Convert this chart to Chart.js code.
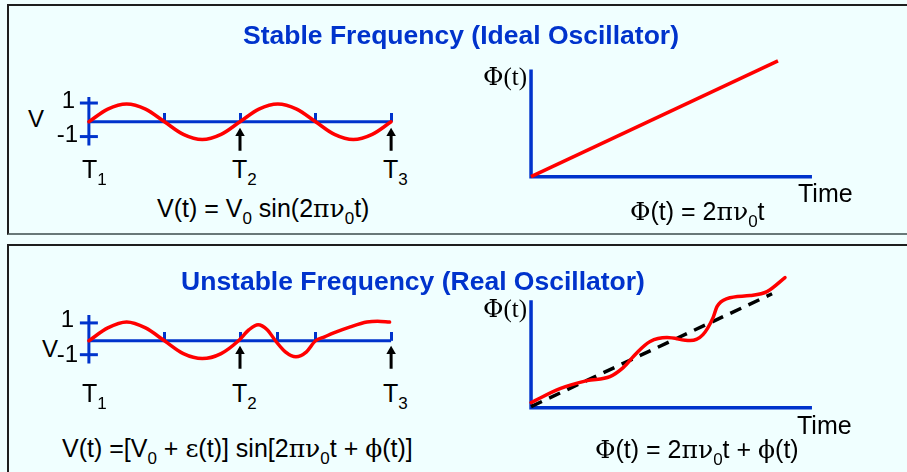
<!DOCTYPE html>
<html>
<head>
<meta charset="utf-8">
<script src="https://cdn.jsdelivr.net/npm/chart.js@4.4.0/dist/chart.umd.min.js"></script>
<style>
body{margin:0;width:907px;height:472px;overflow:hidden;position:relative;background:#f0ffff;font-family:"Liberation Sans",Arial,sans-serif;}
.panel{position:absolute;left:7px;width:1000px;background:#f0ffff;border-top:2px solid #1e1e1e;border-left:2px solid #1e1e1e;border-bottom:2px solid #687878;}
canvas{position:absolute;}
.lbl{position:absolute;white-space:nowrap;line-height:1;font-size:25px;color:#000;}
.sm{font-size:24px;}
.ttl{font-weight:bold;font-size:26.5px;color:#0033cc;}
.sym{font-family:"DejaVu Serif","Liberation Serif",serif;}
.ser{font-family:"Liberation Serif","Times New Roman",serif;}
sub{font-size:17px;line-height:0;vertical-align:-7px;}
.c{transform:translateX(-50%);}
.r{transform:translateX(-100%);}
</style>
</head>
<body>
<div class="panel" style="top:4px;height:227px"></div>
<div class="panel" style="top:244px;height:300px"></div>

<canvas id="stable-volt" width="340" height="58" style="left:70px;top:95px"></canvas>
<canvas id="stable-phase" width="309" height="134" style="left:517px;top:48px"></canvas>
<canvas id="real-volt" width="340" height="58" style="left:70px;top:314px"></canvas>
<canvas id="real-phase" width="309" height="145" style="left:517px;top:268px"></canvas>

<div class="lbl ttl c" style="left:461px;top:22px">Stable Frequency (Ideal Oscillator)</div>
<div class="lbl sm" style="left:28px;top:107px">V</div>
<div class="lbl sm r" style="left:75px;top:88px">1</div>
<div class="lbl sm r" style="left:78px;top:122px">-1</div>
<div class="lbl" style="left:82px;top:157px">T<sub>1</sub></div>
<div class="lbl" style="left:232px;top:157px">T<sub>2</sub></div>
<div class="lbl" style="left:383px;top:157px">T<sub>3</sub></div>
<div class="lbl" style="left:157px;top:196px">V(t) = V<sub>0</sub> sin(2<span class="sym">πν</span><sub>0</sub>t)</div>
<div class="lbl ser" style="left:483px;top:64px"><span class="sym">Φ</span>(t)</div>
<div class="lbl" style="left:798px;top:181px">Time</div>
<div class="lbl" style="left:630px;top:199px"><span class="sym">Φ</span>(t) = 2<span class="sym">πν</span><sub>0</sub>t</div>

<div class="lbl ttl c" style="left:413px;top:268px">Unstable Frequency (Real Oscillator)</div>
<div class="lbl sm" style="left:42px;top:337px">V</div>
<div class="lbl sm r" style="left:74px;top:307px">1</div>
<div class="lbl sm r" style="left:78px;top:342px">-1</div>
<div class="lbl" style="left:82px;top:381px">T<sub>1</sub></div>
<div class="lbl" style="left:232px;top:381px">T<sub>2</sub></div>
<div class="lbl" style="left:383px;top:381px">T<sub>3</sub></div>
<div class="lbl" style="left:62px;top:436px">V(t) =[V<sub>0</sub> + <span class="sym">ε</span>(t)] sin[2<span class="sym">πν</span><sub>0</sub>t + <span class="sym">ϕ</span>(t)]</div>
<div class="lbl ser" style="left:483px;top:296px"><span class="sym">Φ</span>(t)</div>
<div class="lbl" style="left:797px;top:413px">Time</div>
<div class="lbl" style="left:595px;top:437px"><span class="sym">Φ</span>(t) = 2<span class="sym">πν</span><sub>0</sub>t + <span class="sym">ϕ</span>(t)</div>

<script>
// ideal oscillator: voltage vs time (time in periods, V normalised)
const stableT = [0, 0.125, 0.25, 0.375, 0.5, 0.625, 0.75, 0.875, 1, 1.125, 1.25, 1.375, 1.5, 1.625, 1.75, 1.875, 2];
const stableV = [0, 0.71, 1, 0.71, 0, -0.71, -1, -0.71, 0, 0.71, 1, 0.71, 0, -0.71, -1, -0.71, 0];
const stableTicks = [0.5, 1, 1.5, 2];
const stableVMarks = [1.05, -0.83];
const stableVAxis = [1.39, -1.33];

// real oscillator: voltage vs time
const realT = [0, 0.125, 0.25, 0.375, 0.5, 0.625, 0.75, 0.875, 0.99, 1.06, 1.12, 1.18, 1.235, 1.3, 1.37, 1.44, 1.5, 1.56, 1.62, 1.73, 1.84, 1.91, 1.99];
const realV = [0, 0.72, 1.05, 0.72, 0, -0.72, -1.0, -0.72, 0, 0.62, 0.9, 0.62, 0, -0.62, -0.9, -0.62, 0, 0.22, 0.44, 0.78, 1.05, 1.1, 1.05];
const realTicks = [0.5, 1, 1.25, 1.5, 2];
const realVMarks = [1.0, -0.78];
const realVAxis = [1.44, -1.28];

// T2, T3 arrows (time in periods)
const markerT = [1, 2];

// phase vs time
const idealTime = [0, 8.79];
const idealPhase = [0, 10.8];
const realTime = [0, 1.03, 1.99, 2.81, 3.28, 3.77, 4.24, 4.84, 5.66, 6.12, 6.48, 6.62, 6.98, 7.8, 8.4, 9.04];
const realPhase = [0.47, 1.77, 2.51, 2.89, 3.72, 5.12, 6.15, 6.52, 6.24, 6.8, 8.38, 9.4, 10.15, 10.43, 10.8, 12.1];
const trendTime = [0, 8.58];
const trendPhase = [0.1, 10.6];

const BLUE = '#0033cc';
const RED = '#ff0000';

function pts(xs, ys){
    return xs.map((x, i) => ({x: x, y: ys[i]}));
}

// small tick drawn only above the axis
function tickImage(){
    let c = document.createElement('canvas');
    c.width = 3;
    c.height = 18;
    let g = c.getContext('2d');
    g.fillStyle = BLUE;
    g.fillRect(0, 0, 3, 9);
    return c;
}

function makeChart(id, xr, yr, datasets){
    datasets.forEach(d => { d.clip = false; });
    return new Chart(document.getElementById(id), {
        type: 'line',
        data: {datasets: datasets},
        options: {
            responsive: false,
            animation: false,
            events: [],
            layout: {padding: 0, autoPadding: false},
            plugins: {legend: {display: false}, tooltip: {enabled: false}, title: {display: false}},
            scales: {
                x: {type: 'linear', min: xr[0], max: xr[1], display: false},
                y: {type: 'linear', min: yr[0], max: yr[1], display: false}
            },
            elements: {point: {radius: 0, hoverRadius: 0}}
        }
    });
}

function voltChart(id, ts, vs, ticks, marks, vAxis, arrowHead, arrowTail){
    let tick = tickImage();
    let sets = [{
        data: pts(ts, vs),
        borderColor: RED,
        borderWidth: 3.5,
        borderCapStyle: 'round',
        cubicInterpolationMode: 'monotone'
    }, {
        data: ticks.map(t => ({x: t, y: 0})),
        showLine: false,
        pointStyle: tick,
        pointRadius: 5
    }, {
        data: marks.map(v => ({x: 0, y: v})),
        showLine: false,
        pointStyle: 'line',
        pointRadius: 9,
        pointBorderWidth: 3,
        pointBorderColor: BLUE
    }, {
        data: [{x: 0, y: vAxis[0]}, {x: 0, y: vAxis[1]}],
        borderColor: BLUE,
        borderWidth: 3
    }, {
        data: [{x: 0, y: 0}, {x: 2, y: 0}],
        borderColor: BLUE,
        borderWidth: 3
    }];
    markerT.forEach(t => {
        sets.push({
            data: [{x: t, y: arrowHead}, {x: t, y: arrowTail}],
            borderColor: '#000',
            borderWidth: 3,
            pointStyle: 'triangle',
            pointRadius: [5.5, 0],
            pointBackgroundColor: '#000',
            pointBorderWidth: 0
        });
    });
    return makeChart(id, [-0.125, 2.125], [-1.75, 1.5], sets);
}

function phaseChart(id, yMax, curves){
    let sets = curves.concat([{
        data: [{x: 0, y: 10}, {x: 0, y: 0}, {x: 10, y: 0}],
        borderColor: BLUE,
        borderWidth: 3.5,
        borderJoinStyle: 'miter'
    }]);
    return makeChart(id, [-0.5, 10.5], [-0.5, yMax], sets);
}

voltChart('stable-volt', stableT, stableV, stableTicks, stableVMarks, stableVAxis, -0.64, -1.62);
voltChart('real-volt', realT, realV, realTicks, realVMarks, realVAxis, -0.59, -1.57);

phaseChart('stable-phase', 12, [{
    data: pts(idealTime, idealPhase),
    borderColor: RED,
    borderWidth: 3.5
}]);

phaseChart('real-phase', 13, [{
    data: pts(realTime, realPhase),
    borderColor: RED,
    borderWidth: 3.5,
    borderCapStyle: 'round',
    cubicInterpolationMode: 'monotone'
}, {
    data: pts(trendTime, trendPhase),
    borderColor: '#000',
    borderWidth: 3.5,
    borderDash: [12, 8]
}]);
</script>
</body>
</html>
